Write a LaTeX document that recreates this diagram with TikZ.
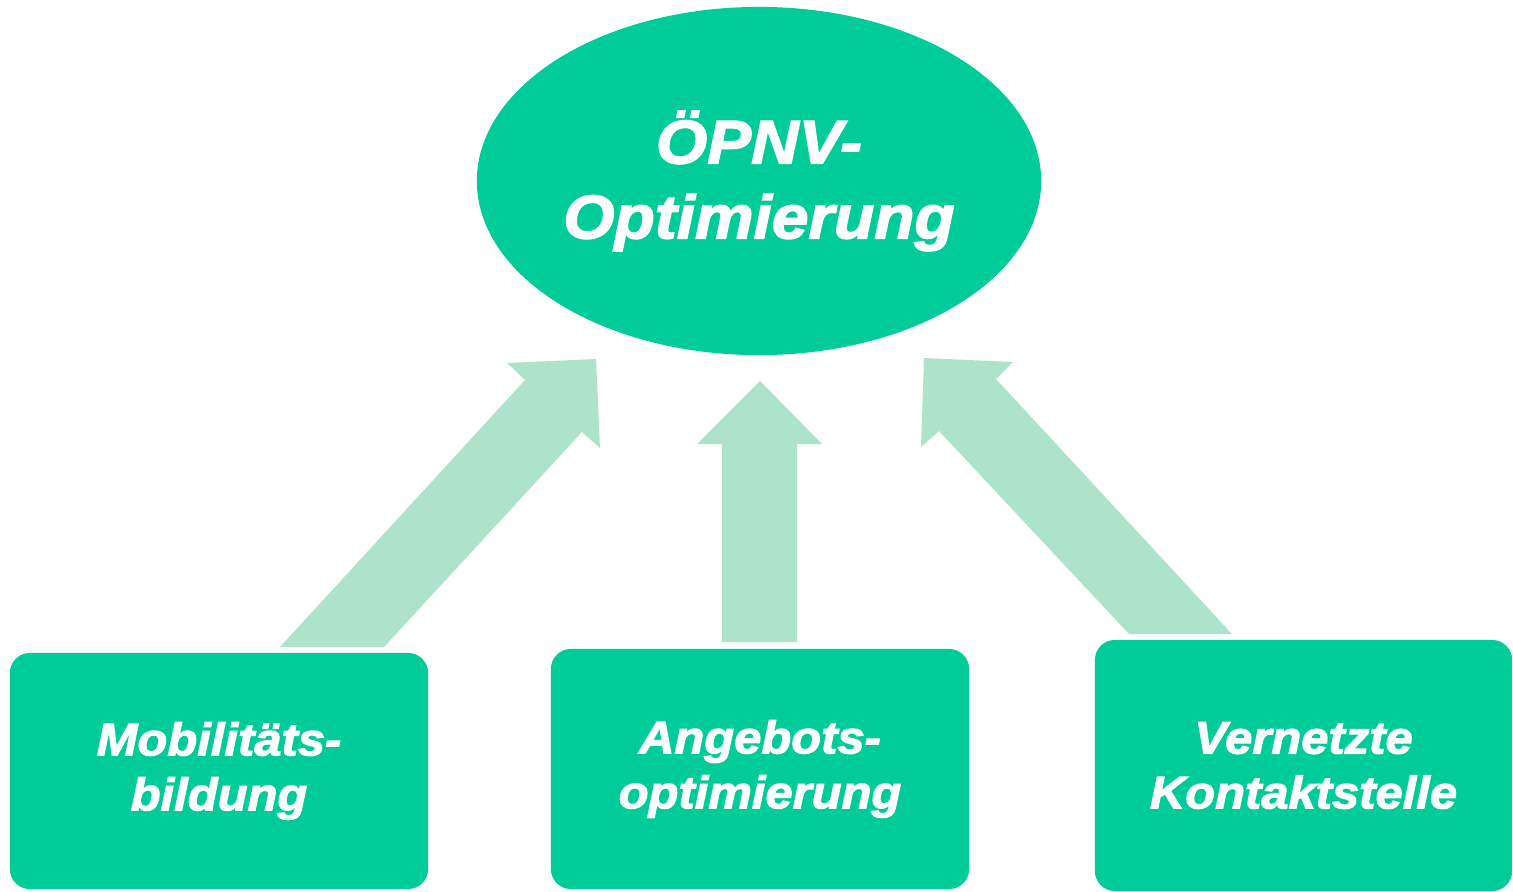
\documentclass[tikz,border=0pt]{standalone}
\usepackage{fontspec}
\setmainfont{Liberation Sans}[BoldItalicFeatures={FakeBold=2.4,FakeStretch=1.07}]
\usepackage{tikz}
\usetikzlibrary{shapes,positioning,calc}

\definecolor{opnvgreen}{HTML}{00CC99}
\definecolor{liftgreen}{HTML}{ADE3CB}

\begin{document}
\begin{tikzpicture}[x=0.01cm,y=-0.01cm]
\tikzstyle{goal}=[ellipse, fill=opnvgreen, draw=none, text=white,
minimum width=5.64cm, minimum height=3.48cm, inner sep=0pt, align=center,
font=\fontsize{17.5}{21.3}\selectfont\bfseries\itshape]
\tikzstyle{pillar}=[rectangle, rounded corners=0.2cm, fill=opnvgreen,
draw=none, text=white, minimum width=4.18cm, align=center,
font=\fontsize{13}{15.6}\selectfont\bfseries\itshape]
\tikzstyle{lift}=[fill=liftgreen, draw=none]

\useasboundingbox (0,0) rectangle (1513,891);

\node[goal] (Goal) at (759,181) {ÖPNV-\\Optimierung};

\node[pillar, minimum height=2.36cm] (Bildung) at (219,771) {Mobilitäts-\\bildung};
\node[pillar, minimum height=2.40cm] (Angebot) at (760,769) {Angebots-\\optimierung};
\node[pillar, minimum height=2.51cm, minimum width=4.17cm]
(Kontakt) at (1303.5,765.5) {Vernetzte\\Kontaktstelle};

%block arrows up to the goal
\fill[lift] (280,647) -- (525,380) -- (507,363) -- (596,359)
  -- (600,448) -- (582,432) -- (384,647) -- cycle;
\fill[lift] (722,642) -- (722,444) -- (697,444) -- (760,381)
  -- (822,444) -- (797,444) -- (797,642) -- cycle;
\fill[lift] (1129,634) -- (939,431) -- (921,447) -- (924,358)
  -- (1013,362) -- (996,379) -- (1232,634) -- cycle;

\end{tikzpicture}
\end{document}
